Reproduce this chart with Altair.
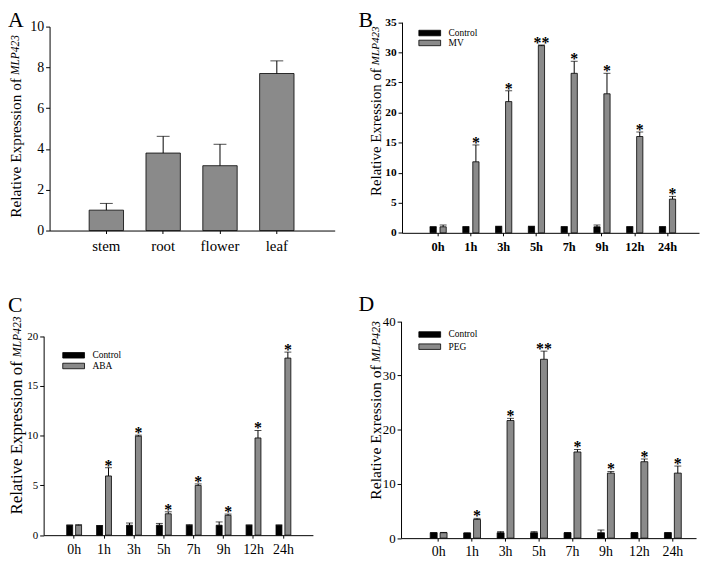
import altair as alt
import pandas as pd

W, H = 700, 553
FONT = "Liberation Serif"
GRAY = "#8a8a8a"

# ---------------- data ----------------
tissues = ["stem", "root", "flower", "leaf"]
tissue_mean = [1.0, 3.8, 3.18, 7.7]
tissue_err = [0.33, 0.82, 1.05, 0.62]

times = ["0h", "1h", "3h", "5h", "7h", "9h", "12h", "24h"]

mv_ctrl = [1.0, 1.0, 1.05, 1.05, 1.0, 1.0, 1.0, 1.0]
mv_ctrl_err = [0.0, 0.03, 0.05, 0.05, 0.03, 0.3, 0.03, 0.03]
mv_treat = [1.0, 11.8, 21.8, 31.1, 26.5, 23.1, 16.0, 5.6]
mv_treat_err = [0.3, 2.8, 1.8, 0.1, 2.0, 3.4, 0.75, 0.45]
mv_sig = ["", "*", "*", "**", "*", "*", "*", "*"]

aba_ctrl = [1.0, 0.95, 1.0, 1.0, 1.0, 1.0, 1.0, 1.0]
aba_ctrl_err = [0.02, 0.02, 0.22, 0.18, 0.05, 0.33, 0.03, 0.03]
aba_treat = [1.0, 5.95, 9.95, 2.15, 5.0, 2.0, 9.77, 17.8]
aba_treat_err = [0.05, 0.83, 0.1, 0.2, 0.15, 0.12, 0.75, 0.6]
aba_sig = ["", "*", "*", "*", "*", "*", "*", "*"]

peg_ctrl = [1.0, 0.95, 1.0, 1.0, 1.0, 1.0, 1.0, 1.0]
peg_ctrl_err = [0.02, 0.02, 0.2, 0.2, 0.03, 0.5, 0.03, 0.03]
peg_treat = [1.0, 3.45, 21.7, 33.0, 15.9, 12.0, 14.1, 12.0]
peg_treat_err = [0.05, 0.2, 0.4, 1.5, 0.45, 0.3, 0.5, 1.3]
peg_sig = ["", "*", "*", "**", "*", "*", "*", "*"]

panel_letters = ["A", "B", "C", "D"]
title_main = ["Relative Expression of", "Relative Exression of",
              "Relative Expression of", "Relative Exression of"]
title_gene = "MLP423"

RECT = "M-2.444,-0.62H2.444V0.62H-2.444Z"


def axis_common(**kw):
    base = dict(labelFont=FONT, labelColor="black", domainColor="black",
                tickColor="black", domainWidth=1, tickWidth=1, grid=False,
                title=None, labelFlush=False)
    base.update(kw)
    return alt.Axis(**base)


# ---------------- panel A ----------------
dfA = pd.DataFrame({"tissue": tissues, "value": tissue_mean, "err": tissue_err})
dfA["top"] = dfA["value"] + dfA["err"]
xA_scale = alt.Scale(range=[42, 330], paddingInner=0.395, paddingOuter=0.706, align=0.493)
yA_scale = alt.Scale(domain=[0, 10], range=[222, 16], nice=False)
xA_axis = axis_common(orient="bottom", offset=222 - H, tickSize=3,
                      labelFontSize=15, labelPadding=5, labelAngle=0)
yA_axis = axis_common(orient="left", offset=-42, tickSize=4,
                      values=[0, 2, 4, 6, 8, 10], labelFontSize=14, labelPadding=2)
xA = alt.X("tissue:N", sort=tissues, scale=xA_scale, axis=xA_axis)
baseA = alt.Chart(dfA)
barsA = baseA.mark_bar(color=GRAY, stroke="black", strokeWidth=0.8).encode(
    x=xA, y=alt.Y("value:Q", scale=yA_scale, axis=yA_axis))
rulesA = baseA.mark_rule(color="black", strokeWidth=1).encode(
    x=xA, y=alt.Y("value:Q", scale=yA_scale, axis=yA_axis), y2="top:Q")
capsA = baseA.mark_tick(orient="horizontal", size=13, thickness=1, color="black").encode(
    x=xA, y=alt.Y("top:Q", scale=yA_scale, axis=yA_axis))
panelA = alt.layer(barsA, rulesA, capsA)


def time_panel(treat, ctrl, ctrl_err, trt, trt_err, sig, ymax, yticks,
               xrange, yrange, pin, pout, align, subpad, yaxis_off,
               ytick_fs, xtick_fs, xpad, bold, legend_xy, row_pad):
    rows = []
    for i, t in enumerate(times):
        rows.append({"time": t, "group": "Control", "value": ctrl[i],
                     "err": ctrl_err[i], "sig": ""})
        rows.append({"time": t, "group": treat, "value": trt[i],
                     "err": trt_err[i], "sig": sig[i]})
    df = pd.DataFrame(rows)
    df["top"] = df["value"] + df["err"]
    groups = ["Control", treat]
    weight = "bold" if bold else "normal"
    xs = alt.Scale(range=xrange, paddingInner=pin, paddingOuter=pout, align=align)
    ys = alt.Scale(domain=[0, ymax], range=yrange, nice=False)
    x_axis = axis_common(orient="bottom", offset=yrange[0] - H, tickSize=3,
                         labelFontSize=xtick_fs, labelPadding=xpad, labelAngle=0,
                         labelFontWeight=weight)
    y_axis = axis_common(orient="left", offset=-yaxis_off, tickSize=4,
                         values=yticks, labelFontSize=ytick_fs, labelPadding=2,
                         labelFontWeight=weight)
    xe = alt.X("time:N", sort=times, scale=xs, axis=x_axis)
    xo = alt.XOffset("group:N", sort=groups,
                     scale=alt.Scale(paddingInner=subpad, paddingOuter=0))
    base = alt.Chart(df)
    bars = base.mark_bar(stroke="black", strokeWidth=0.8).encode(
        x=xe, xOffset=xo,
        y=alt.Y("value:Q", scale=ys, axis=y_axis),
        color=alt.Color("group:N", sort=groups,
                        scale=alt.Scale(domain=groups, range=["black", GRAY]),
                        legend=alt.Legend(orient="none", legendX=legend_xy[0],
                                          legendY=legend_xy[1], title=None,
                                          symbolType=RECT, symbolSize=81,
                                          symbolStrokeColor="black",
                                          symbolStrokeWidth=0.8,
                                          symbolOffset=6, labelOffset=14,
                                          labelFont=FONT, labelFontSize=9.5,
                                          labelColor="black",
                                          rowPadding=row_pad, padding=0)),
    )
    rules = base.mark_rule(color="black", strokeWidth=1).encode(
        x=xe, xOffset=xo,
        y=alt.Y("value:Q", scale=ys, axis=y_axis), y2="top:Q")
    caps = base.mark_tick(orient="horizontal", size=7, thickness=1,
                          color="black").encode(
        x=xe, xOffset=xo, y=alt.Y("top:Q", scale=ys, axis=y_axis))
    stars = base.transform_filter("datum.sig != ''").mark_text(
        font=FONT, fontSize=16, fontWeight="bold", color="black",
        baseline="alphabetic", dy=3).encode(
        x=xe, xOffset=xo,
        y=alt.Y("top:Q", scale=ys, axis=y_axis), text="sig:N")
    return alt.layer(bars, rules, caps, stars)


panelB = time_panel("MV", mv_ctrl, mv_ctrl_err, mv_treat, mv_treat_err, mv_sig,
                    35, [0, 5, 10, 15, 20, 25, 30, 35],
                    [398, 698], [224.3, 11.5], 0.505, 0.784, 0.545, 0.376, 398,
                    11.5, 12.5, 5, True, (415, 17.5), 0)
panelC = time_panel("ABA", aba_ctrl, aba_ctrl_err, aba_treat, aba_treat_err, aba_sig,
                    20, [0, 5, 10, 15, 20],
                    [36, 308], [529.7, 328.7], 0.503, 0.755, 0.511, 0.333, 36,
                    11, 14, 5, False, (55.3, 343), 0.8)
panelD = time_panel("PEG", peg_ctrl, peg_ctrl_err, peg_treat, peg_treat_err, peg_sig,
                    40, [0, 10, 20, 30, 40],
                    [397, 695], [532.7, 313.7], 0.497, 0.657, 0.664, 0.3, 397,
                    13, 14, 4, False, (415, 322), 2.3)

# ---------------- annotations ----------------
one = alt.Data(values=[{"k": 0}])
letter_pos = [(0, 16), (354, 16), (0, 304), (354, 303)]
letters = [
    alt.Chart(one).mark_text(font=FONT, fontSize=22, align="left",
                             baseline="alphabetic", color="black").encode(
        x=alt.value(p[0]), y=alt.value(p[1]), text=alt.value(l))
    for l, p in zip(panel_letters, letter_pos)
]

# y titles: (x, anchor of main part, anchor of gene part, main size, gene size)
title_pos = [(8.5, 68, 65, 15.5, 11.6), (372, 58, 55, 15.0, 11.2),
             (9.5, 354, 350, 17.0, 11.8), (372, 358, 355, 15.8, 11.9)]
titles = []
for txt, (tx, ym, yg, fs, gs) in zip(title_main, title_pos):
    titles.append(alt.Chart(one).mark_text(font=FONT, fontSize=fs, angle=270,
                                           align="right", baseline="middle",
                                           color="black").encode(
        x=alt.value(tx), y=alt.value(ym), text=alt.value(txt)))
    titles.append(alt.Chart(one).mark_text(font=FONT, fontSize=gs, angle=270,
                                           align="left", baseline="middle",
                                           fontStyle="italic",
                                           color="black").encode(
        x=alt.value(tx), y=alt.value(yg), text=alt.value(title_gene)))

chart = alt.layer(panelA, panelB, panelC, panelD, *letters, *titles).resolve_scale(
    x="independent", y="independent", xOffset="independent", color="independent"
).resolve_axis(x="independent", y="independent").resolve_legend(
    color="independent"
).properties(
    width=W, height=H, padding=0, autosize=alt.AutoSizeParams(type="none")
).configure_view(stroke=None)

chart.save("out.html", embed_options={"renderer": "svg", "actions": False})
